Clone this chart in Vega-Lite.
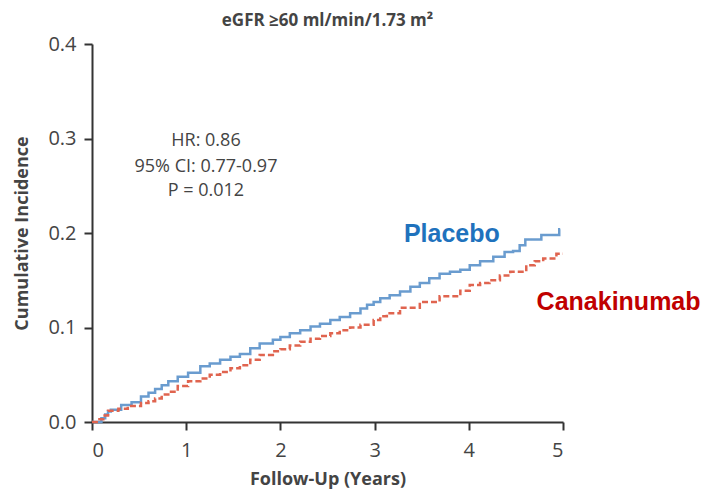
{
  "$schema": "https://vega.github.io/schema/vega-lite/v6.json",
  "autosize": "none",
  "width": 471,
  "height": 378,
  "padding": {"left": 92, "top": 44, "right": 147, "bottom": 70},
  "background": "white",
  "title": {"text": "eGFR ≥60 ml/min/1.73 m²", "anchor": "middle", "font": "Open Sans", "fontSize": 17, "fontWeight": "bold", "color": "#444444", "offset": 4},
  "config": {
    "view": {"stroke": null},
    "font": "Open Sans",
    "axis": {"grid": false, "domainColor": "#333333", "domainWidth": 2, "tickColor": "#333333", "tickWidth": 2, "tickSize": 8, "labelFont": "Open Sans", "labelFontSize": 20, "labelColor": "#444444", "titleFont": "Open Sans", "titleFontSize": 18, "titleFontWeight": "bold", "titleColor": "#444444"}
  },
  "resolve": {"scale": {"color": "independent"}},
  "datasets": {
    "curves": [
      {"t": 0, "ci": 0, "group": "Placebo"},
      {"t": 0.06, "ci": 0, "group": "Placebo"},
      {"t": 0.10, "ci": 0.004, "group": "Placebo"},
      {"t": 0.14, "ci": 0.008, "group": "Placebo"},
      {"t": 0.17, "ci": 0.011, "group": "Placebo"},
      {"t": 0.20, "ci": 0.013, "group": "Placebo"},
      {"t": 0.31, "ci": 0.018, "group": "Placebo"},
      {"t": 0.42, "ci": 0.021, "group": "Placebo"},
      {"t": 0.52, "ci": 0.027, "group": "Placebo"},
      {"t": 0.60, "ci": 0.031, "group": "Placebo"},
      {"t": 0.67, "ci": 0.035, "group": "Placebo"},
      {"t": 0.74, "ci": 0.039, "group": "Placebo"},
      {"t": 0.81, "ci": 0.043, "group": "Placebo"},
      {"t": 0.91, "ci": 0.048, "group": "Placebo"},
      {"t": 1.02, "ci": 0.052, "group": "Placebo"},
      {"t": 1.15, "ci": 0.059, "group": "Placebo"},
      {"t": 1.25, "ci": 0.062, "group": "Placebo"},
      {"t": 1.36, "ci": 0.066, "group": "Placebo"},
      {"t": 1.47, "ci": 0.069, "group": "Placebo"},
      {"t": 1.57, "ci": 0.072, "group": "Placebo"},
      {"t": 1.68, "ci": 0.078, "group": "Placebo"},
      {"t": 1.78, "ci": 0.083, "group": "Placebo"},
      {"t": 1.92, "ci": 0.087, "group": "Placebo"},
      {"t": 2.00, "ci": 0.090, "group": "Placebo"},
      {"t": 2.10, "ci": 0.094, "group": "Placebo"},
      {"t": 2.21, "ci": 0.097, "group": "Placebo"},
      {"t": 2.32, "ci": 0.101, "group": "Placebo"},
      {"t": 2.42, "ci": 0.104, "group": "Placebo"},
      {"t": 2.53, "ci": 0.108, "group": "Placebo"},
      {"t": 2.63, "ci": 0.111, "group": "Placebo"},
      {"t": 2.74, "ci": 0.115, "group": "Placebo"},
      {"t": 2.85, "ci": 0.120, "group": "Placebo"},
      {"t": 2.92, "ci": 0.124, "group": "Placebo"},
      {"t": 2.99, "ci": 0.127, "group": "Placebo"},
      {"t": 3.06, "ci": 0.131, "group": "Placebo"},
      {"t": 3.16, "ci": 0.134, "group": "Placebo"},
      {"t": 3.27, "ci": 0.138, "group": "Placebo"},
      {"t": 3.38, "ci": 0.143, "group": "Placebo"},
      {"t": 3.48, "ci": 0.147, "group": "Placebo"},
      {"t": 3.58, "ci": 0.152, "group": "Placebo"},
      {"t": 3.69, "ci": 0.157, "group": "Placebo"},
      {"t": 3.80, "ci": 0.159, "group": "Placebo"},
      {"t": 3.91, "ci": 0.161, "group": "Placebo"},
      {"t": 4.01, "ci": 0.166, "group": "Placebo"},
      {"t": 4.12, "ci": 0.170, "group": "Placebo"},
      {"t": 4.26, "ci": 0.175, "group": "Placebo"},
      {"t": 4.38, "ci": 0.180, "group": "Placebo"},
      {"t": 4.47, "ci": 0.181, "group": "Placebo"},
      {"t": 4.54, "ci": 0.187, "group": "Placebo"},
      {"t": 4.60, "ci": 0.193, "group": "Placebo"},
      {"t": 4.77, "ci": 0.198, "group": "Placebo"},
      {"t": 4.96, "ci": 0.204, "group": "Placebo"},
      {"t": 4.97, "ci": 0.204, "group": "Placebo"},
      {"t": 0, "ci": 0, "group": "Canakinumab"},
      {"t": 0.05, "ci": 0.003, "group": "Canakinumab"},
      {"t": 0.12, "ci": 0.007, "group": "Canakinumab"},
      {"t": 0.17, "ci": 0.012, "group": "Canakinumab"},
      {"t": 0.28, "ci": 0.014, "group": "Canakinumab"},
      {"t": 0.38, "ci": 0.017, "group": "Canakinumab"},
      {"t": 0.52, "ci": 0.020, "group": "Canakinumab"},
      {"t": 0.60, "ci": 0.022, "group": "Canakinumab"},
      {"t": 0.67, "ci": 0.025, "group": "Canakinumab"},
      {"t": 0.74, "ci": 0.029, "group": "Canakinumab"},
      {"t": 0.81, "ci": 0.032, "group": "Canakinumab"},
      {"t": 0.91, "ci": 0.038, "group": "Canakinumab"},
      {"t": 1.02, "ci": 0.043, "group": "Canakinumab"},
      {"t": 1.15, "ci": 0.046, "group": "Canakinumab"},
      {"t": 1.25, "ci": 0.050, "group": "Canakinumab"},
      {"t": 1.36, "ci": 0.053, "group": "Canakinumab"},
      {"t": 1.47, "ci": 0.057, "group": "Canakinumab"},
      {"t": 1.57, "ci": 0.060, "group": "Canakinumab"},
      {"t": 1.68, "ci": 0.066, "group": "Canakinumab"},
      {"t": 1.78, "ci": 0.071, "group": "Canakinumab"},
      {"t": 1.92, "ci": 0.075, "group": "Canakinumab"},
      {"t": 2.00, "ci": 0.077, "group": "Canakinumab"},
      {"t": 2.10, "ci": 0.081, "group": "Canakinumab"},
      {"t": 2.21, "ci": 0.085, "group": "Canakinumab"},
      {"t": 2.32, "ci": 0.088, "group": "Canakinumab"},
      {"t": 2.42, "ci": 0.091, "group": "Canakinumab"},
      {"t": 2.53, "ci": 0.094, "group": "Canakinumab"},
      {"t": 2.63, "ci": 0.097, "group": "Canakinumab"},
      {"t": 2.74, "ci": 0.100, "group": "Canakinumab"},
      {"t": 2.85, "ci": 0.103, "group": "Canakinumab"},
      {"t": 2.99, "ci": 0.108, "group": "Canakinumab"},
      {"t": 3.06, "ci": 0.112, "group": "Canakinumab"},
      {"t": 3.13, "ci": 0.115, "group": "Canakinumab"},
      {"t": 3.27, "ci": 0.121, "group": "Canakinumab"},
      {"t": 3.48, "ci": 0.127, "group": "Canakinumab"},
      {"t": 3.69, "ci": 0.133, "group": "Canakinumab"},
      {"t": 3.91, "ci": 0.139, "group": "Canakinumab"},
      {"t": 4.01, "ci": 0.145, "group": "Canakinumab"},
      {"t": 4.12, "ci": 0.147, "group": "Canakinumab"},
      {"t": 4.22, "ci": 0.150, "group": "Canakinumab"},
      {"t": 4.33, "ci": 0.155, "group": "Canakinumab"},
      {"t": 4.44, "ci": 0.159, "group": "Canakinumab"},
      {"t": 4.61, "ci": 0.166, "group": "Canakinumab"},
      {"t": 4.70, "ci": 0.170, "group": "Canakinumab"},
      {"t": 4.79, "ci": 0.173, "group": "Canakinumab"},
      {"t": 4.93, "ci": 0.178, "group": "Canakinumab"},
      {"t": 5.00, "ci": 0.178, "group": "Canakinumab"}
    ],
    "stats": [
      {"t": 1.21, "ci": 0.297, "label": "HR: 0.86"},
      {"t": 1.21, "ci": 0.270, "label": "95% CI: 0.77-0.97"},
      {"t": 1.21, "ci": 0.244, "label": "P = 0.012"}
    ],
    "names": [
      {"t": 3.82, "ci": 0.199, "label": "Placebo"},
      {"t": 5.59, "ci": 0.127, "label": "Canakinumab"}
    ]
  },
  "layer": [
    {
      "data": {"name": "curves"},
      "mark": {"type": "line", "interpolate": "step-after", "strokeWidth": 2.5, "clip": false},
      "encoding": {
        "x": {"field": "t", "type": "quantitative", "scale": {"domain": [0, 5], "nice": false}, "axis": {"values": [0, 1, 2, 3, 4, 5], "format": "d", "title": "Follow-Up (Years)", "labelPadding": 10, "titlePadding": 10}},
        "y": {"field": "ci", "type": "quantitative", "scale": {"domain": [0, 0.4], "nice": false}, "axis": {"values": [0, 0.1, 0.2, 0.3, 0.4], "format": ".1f", "title": "Cumulative Incidence", "labelPadding": 8, "titlePadding": 16}},
        "color": {"field": "group", "type": "nominal", "scale": {"domain": ["Placebo", "Canakinumab"], "range": ["#6a9ccf", "#e0644f"]}, "legend": null},
        "strokeDash": {"field": "group", "type": "nominal", "scale": {"domain": ["Placebo", "Canakinumab"], "range": [[1, 0], [6, 3]]}, "legend": null}
      }
    },
    {
      "data": {"name": "stats"},
      "mark": {"type": "text", "font": "Open Sans", "fontSize": 18, "color": "#444444", "align": "center", "baseline": "middle"},
      "encoding": {
        "x": {"field": "t", "type": "quantitative"},
        "y": {"field": "ci", "type": "quantitative"},
        "text": {"field": "label", "type": "nominal"}
      }
    },
    {
      "data": {"name": "names"},
      "mark": {"type": "text", "font": "Liberation Sans", "fontSize": 25, "fontWeight": "bold", "align": "center", "baseline": "middle"},
      "encoding": {
        "x": {"field": "t", "type": "quantitative"},
        "y": {"field": "ci", "type": "quantitative"},
        "text": {"field": "label", "type": "nominal"},
        "color": {"field": "label", "type": "nominal", "scale": {"domain": ["Placebo", "Canakinumab"], "range": ["#1f72bd", "#c00000"]}, "legend": null}
      }
    }
  ]
}
